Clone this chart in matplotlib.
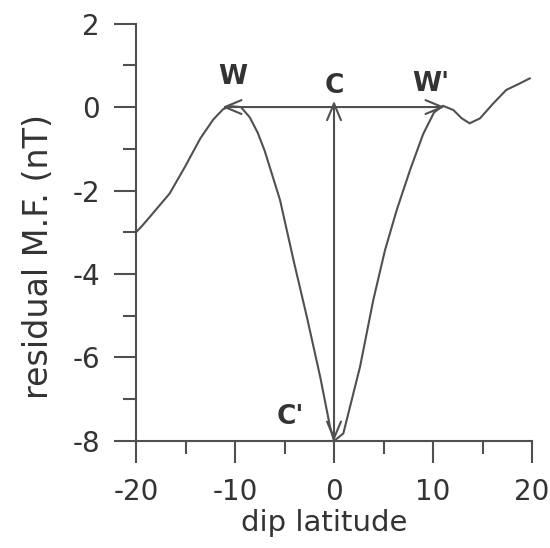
import matplotlib
matplotlib.use("Agg")
import matplotlib.pyplot as plt
from matplotlib.patches import FancyArrowPatch
from matplotlib.ticker import MultipleLocator

plt.rcParams["font.family"] = ["DejaVu Sans"]
plt.rcParams["axes.unicode_minus"] = False

# Residual magnetic field profile across the dip equator
dip_lat = [-20, -19.4, -18.6, -16.6, -15.05, -13.5, -12.2, -11.2, -10.4, -9.4,
           -8.5, -7.7, -7.0, -5.45, -4.1, -2.75, -1.4, -0.4, 0.0, 0.94,
           2.63, 3.97, 5.15, 6.33, 7.68, 9.0, 10.1, 11.0, 12.05, 12.9,
           13.7, 14.75, 16.1, 17.4, 18.8, 19.8]
resid_mf = [-3.0, -2.85, -2.63, -2.07, -1.43, -0.75, -0.3, -0.05, 0.02, 0.0,
            -0.25, -0.62, -1.05, -2.23, -3.66, -5.02, -6.46, -7.66, -8.0, -7.82,
            -6.22, -4.62, -3.43, -2.47, -1.51, -0.65, -0.13, 0.03, -0.07, -0.27,
            -0.39, -0.27, 0.09, 0.41, 0.57, 0.69]

# Width (W–W') and depth (C–C') markers
w_left, w_right = -11.3, 11.2
c_x, c_bottom, c_top = 0.0, -8.0, 0.15

x_ticks = [-20, -10, 0, 10, 20]
y_ticks = [-8, -6, -4, -2, 0, 2]

ink = "#505050"
txt = "#333333"

fig = plt.figure(figsize=(5.5, 5.48), dpi=100)
ax = fig.add_axes([0.2473, 0.1953, 0.72, 0.7617])

ax.plot(dip_lat, resid_mf, color=ink, lw=1.5, solid_joinstyle="round",
        solid_capstyle="round")

arrow_style = "<->,head_length=12,head_width=5"
ax.add_patch(FancyArrowPatch((w_left, 0), (w_right, 0), arrowstyle=arrow_style,
                             mutation_scale=1, shrinkA=0, shrinkB=0,
                             color=ink, lw=1.5))
ax.add_patch(FancyArrowPatch((c_x, c_bottom), (c_x, c_top), arrowstyle=arrow_style,
                             mutation_scale=1, shrinkA=0, shrinkB=0,
                             color=ink, lw=1.5))

label_kw = dict(fontsize=19, fontweight="bold", color=txt, va="center")
ax.text(-10.25, 0.71, "W", ha="center", **label_kw)
ax.text(0.0, 0.5, "C", ha="center", **label_kw)
ax.text(7.9, 0.55, "W'", ha="left", **label_kw)
ax.text(-5.8, -7.43, "C'", ha="left", **label_kw)

ax.set_xlim(-20, 20)
ax.set_ylim(-8, 2)
ax.set_xticks(x_ticks)
ax.set_yticks(y_ticks)
ax.xaxis.set_minor_locator(MultipleLocator(5))
ax.yaxis.set_minor_locator(MultipleLocator(1))

for s in ("top", "right"):
    ax.spines[s].set_visible(False)
for s in ("left", "bottom"):
    ax.spines[s].set_color(ink)
    ax.spines[s].set_linewidth(1.5)

ax.tick_params(axis="both", which="major", direction="out", length=16,
               width=1.5, color=ink, labelsize=20, labelcolor=txt)
ax.tick_params(axis="both", which="minor", direction="out", length=9.5,
               width=1.5, color=ink)
ax.tick_params(axis="x", which="major", pad=11)
ax.tick_params(axis="y", which="major", pad=10)

ax.set_xlabel("dip latitude", fontsize=21, color=txt)
ax.set_ylabel("residual M.F. (nT)", fontsize=24, color=txt)
ax.xaxis.set_label_coords(0.475, -0.162)
ax.yaxis.set_label_coords(-0.205, 0.443)

fig.savefig("out.png", dpi=100, facecolor="white")
